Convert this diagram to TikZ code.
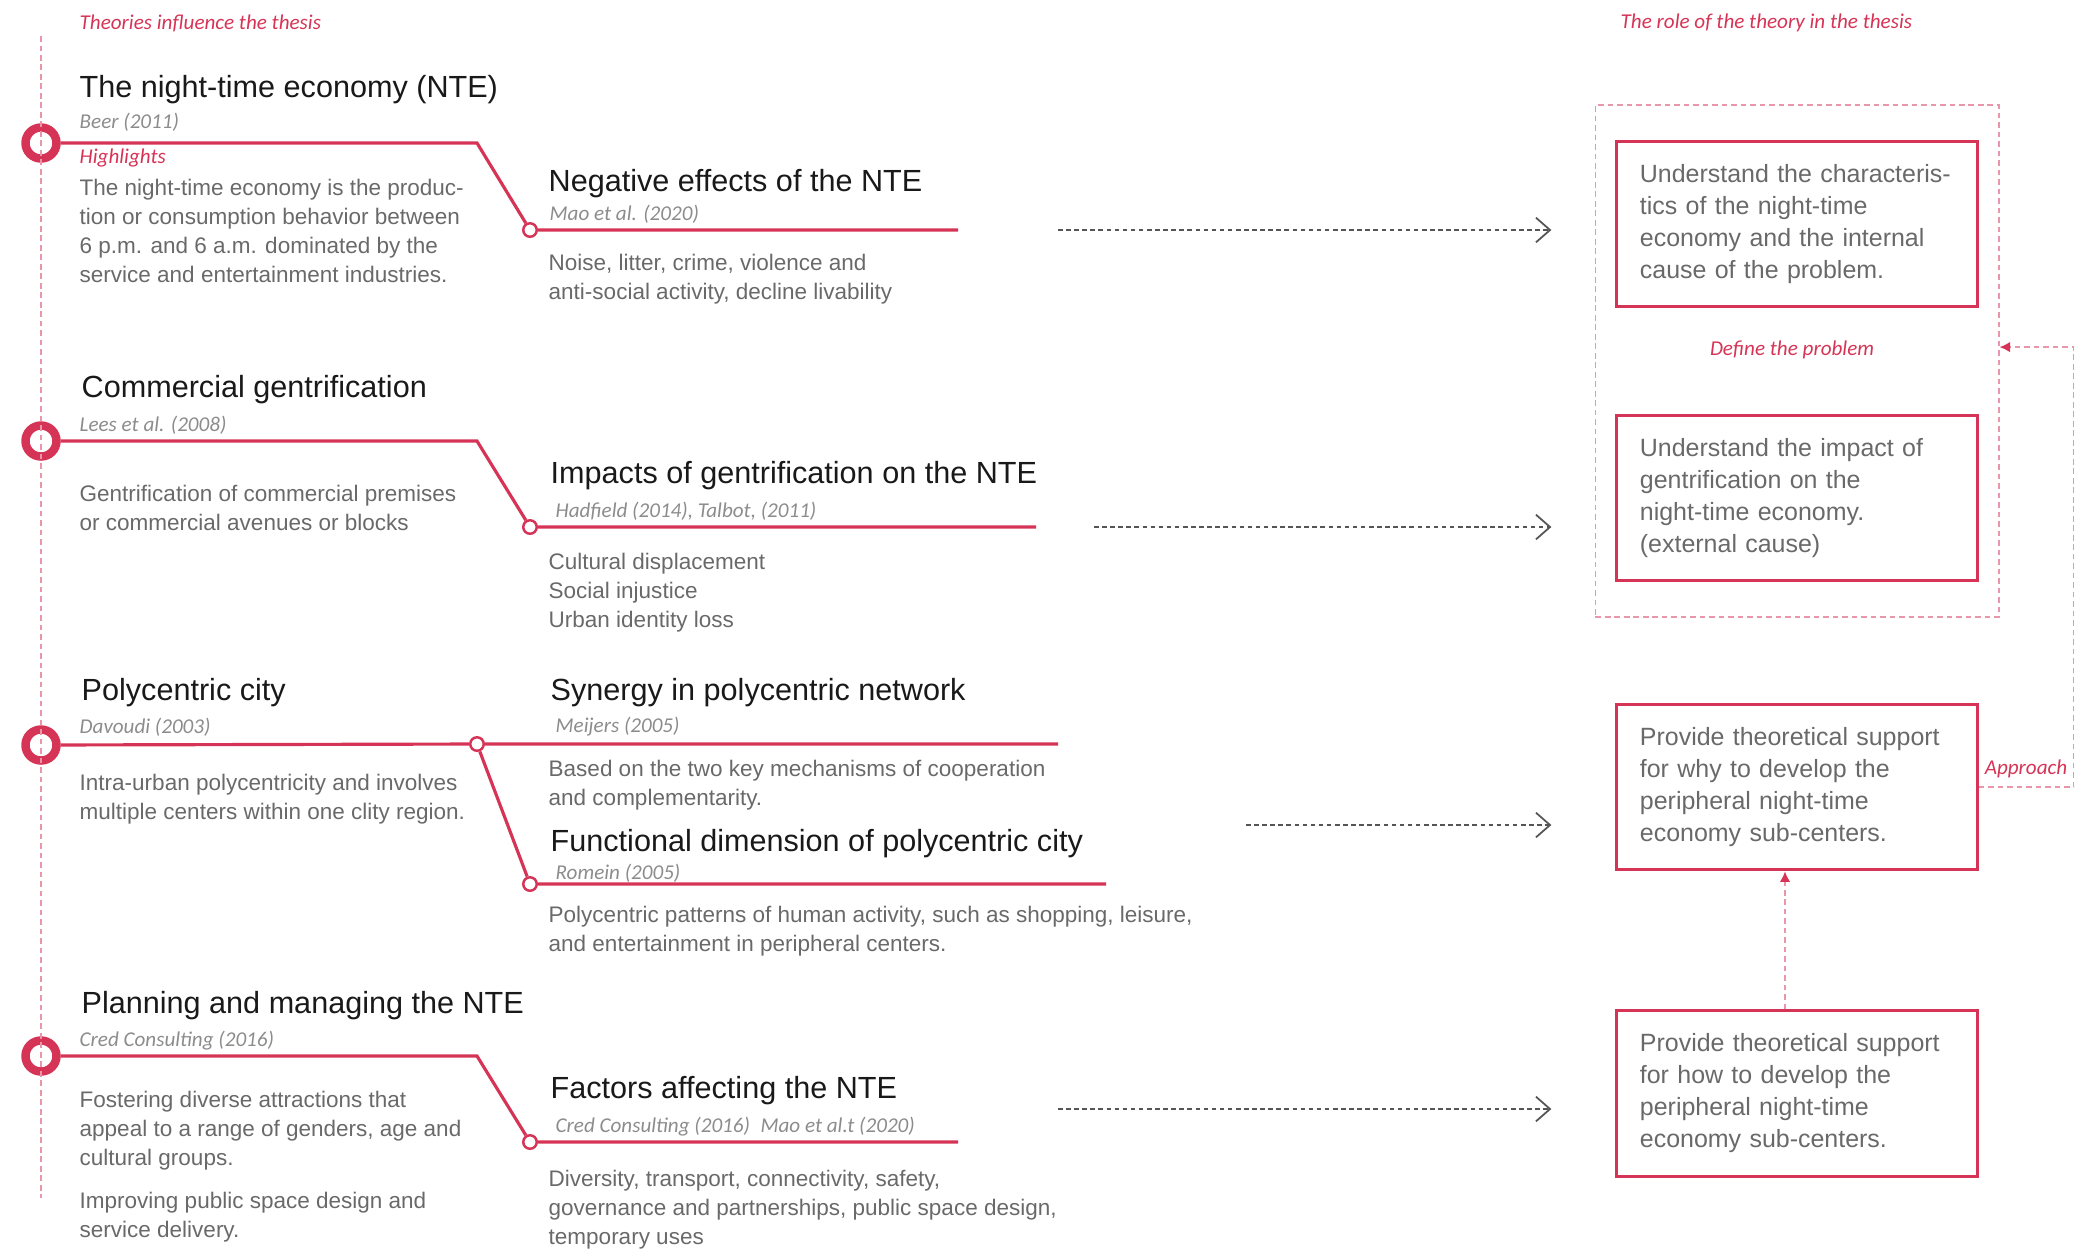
\documentclass[tikz,border=0pt]{standalone}
\usepackage{fontspec}
\setmainfont{Liberation Sans}
\newfontfamily\citefont{Carlito}
\usetikzlibrary{positioning, arrows.meta, fit}

\definecolor{nteRed}{RGB}{214,52,86}
\definecolor{bodyGrey}{RGB}{105,105,105}
\definecolor{citeGrey}{RGB}{140,140,140}
\definecolor{dashPink}{RGB}{232,150,170}
\definecolor{arrowGrey}{RGB}{85,85,85}

\begin{document}
\begin{tikzpicture}[
    x=0.01cm, y=-0.01cm,
    redline/.style={draw=nteRed, line width=0.9pt},
    bigdot/.style={circle, draw=nteRed, fill=white, line width=2.4pt, minimum size=0.31cm, inner sep=0pt},
    smalldot/.style={circle, draw=nteRed, fill=white, line width=0.7pt, minimum size=0.135cm, inner sep=0pt},
    theory/.style={anchor=west, inner sep=0pt, text=black!90, font=\fontsize{8.7}{10}\selectfont},
    cite/.style={anchor=west, inner sep=0pt, text=citeGrey, font=\citefont\itshape\fontsize{6}{7}\selectfont},
    note/.style={inner sep=0pt, text=nteRed, font=\citefont\itshape\fontsize{6}{7}\selectfont},
    body/.style={anchor=north west, inner sep=0pt, align=left, text=bodyGrey, font=\fontsize{6.4}{8.25}\selectfont},
    rolebox/.style={draw=nteRed, line width=0.85pt, text width=3.14cm, inner xsep=0.23cm, minimum height=1.65cm, align=left, text=bodyGrey, font=\fontsize{7.1}{9.1}\selectfont},
    flow/.style={arrowGrey, line width=0.5pt, dash pattern=on 1.3pt off 1pt, -{Straight Barb[length=4pt, width=7pt]}},
    link/.style={dashPink, line width=0.5pt, dash pattern=on 1.6pt off 1.1pt}
]
\useasboundingbox (0,0) rectangle (2087,1250);

% column headings
\node[note, anchor=west] (leftHead) at (79,23) {Theories influence the thesis};
\node[note, anchor=west] (rightHead) at (1620,23) {The role of the theory in the thesis};

% timeline dots
\node[bigdot] (nte) at (41,143) {};
\node[bigdot] (gent) at (41,441) {};
\node[bigdot] (poly) at (41,745) {};
\node[bigdot] (plan) at (41,1056) {};
\node[smalldot] (neg) at (530,230) {};
\node[smalldot] (imp) at (530,527) {};
\node[smalldot] (syn) at (477,744) {};
\node[smalldot] (func) at (530,884) {};
\node[smalldot] (fac) at (530,1142) {};

\coordinate (axisTop) at (41,36);
\coordinate (axisBot) at (41,1198);
\draw[link] (axisTop) -- (axisBot);

% red branches
\coordinate (nteBend) at (477,143);
\coordinate (negEnd) at (958,230);
\coordinate (gentBend) at (477,441);
\coordinate (impEnd) at (1036,527);
\coordinate (synEnd) at (1058,744);
\coordinate (funcEnd) at (1106,884);
\coordinate (planBend) at (477,1056);
\coordinate (facEnd) at (958,1142);
\draw[redline] (nte) -- (nteBend) -- (neg) -- (negEnd);
\draw[redline] (gent) -- (gentBend) -- (imp) -- (impEnd);
\draw[redline] (poly) -- (syn) -- (synEnd);
\draw[redline] (syn) -- (func) -- (funcEnd);
\draw[redline] (plan) -- (planBend) -- (fac) -- (facEnd);

% row 1
\node[theory] (nteTitle) at (79,90) {The night-time economy (NTE)};
\node[cite] (nteCite) at (79,122) {Beer (2011)};
\node[note, anchor=west] (nteHigh) at (79,158) {Highlights};
\node[body] (nteText) at (79,178) {The night-time economy is the produc-\\tion or consumption behavior between\\6 p.m. and 6 a.m. dominated by the\\service and entertainment industries.};
\node[theory] (negTitle) at (548,184) {Negative effects of the NTE};
\node[cite] (negCite) at (549,214) {Mao et al. (2020)};
\node[body] (negText) at (548,253) {Noise, litter, crime, violence and\\anti-social activity, decline livability};

% row 2
\node[theory] (gentTitle) at (81,390) {Commercial gentrification};
\node[cite] (gentCite) at (79,425) {Lees et al. (2008)};
\node[body] (gentText) at (79,484) {Gentrification of commercial premises\\or commercial avenues or blocks};
\node[theory] (impTitle) at (550,476) {Impacts of gentrification on the NTE};
\node[cite] (impCite) at (555,511) {Hadfield (2014), Talbot, (2011)};
\node[body] (impText) at (548,552) {Cultural displacement\\Social injustice\\Urban identity loss};

% row 3
\node[theory] (polyTitle) at (81,693) {Polycentric city};
\node[cite] (polyCite) at (79,727) {Davoudi (2003)};
\node[body] (polyText) at (79,773) {Intra-urban polycentricity and involves\\multiple centers within one clity region.};
\node[theory] (synTitle) at (550,693) {Synergy in polycentric network};
\node[cite] (synCite) at (555,727) {Meijers (2005)};
\node[body] (synText) at (548,759) {Based on the two key mechanisms of cooperation\\and complementarity.};
\node[theory] (funcTitle) at (550,844) {Functional dimension of polycentric city};
\node[cite] (funcCite) at (555,873) {Romein (2005)};
\node[body] (funcText) at (548,905) {Polycentric patterns of human activity, such as shopping, leisure,\\and entertainment in peripheral centers.};

% row 4
\node[theory] (planTitle) at (81,1006) {Planning and managing the NTE};
\node[cite] (planCite) at (79,1041) {Cred Consulting (2016)};
\node[body] (planText) at (79,1090) {Fostering diverse attractions that\\appeal to a range of genders, age and\\cultural groups.\\[4pt]Improving public space design and\\service delivery.};
\node[theory] (facTitle) at (550,1091) {Factors affecting the NTE};
\node[cite] (facCite) at (555,1127) {Cred Consulting (2016)\enspace Mao et al.t (2020)};
\node[body] (facText) at (548,1169) {Diversity, transport, connectivity, safety,\\governance and partnerships, public space design,\\temporary uses};

% role boxes
\node[rolebox] (box1) at (1797,224) {Understand the characteris-\\tics of the night-time\\economy and the internal\\cause of the problem.};
\node[rolebox, below=1.06cm of box1] (box2) {Understand the impact of\\gentrification on the\\night-time economy.\\(external cause)};
\node[rolebox, below=1.21cm of box2] (box3) {Provide theoretical support\\for why to develop the\\peripheral night-time\\economy sub-centers.};
\node[rolebox, below=1.38cm of box3] (box4) {Provide theoretical support\\for how to develop the\\peripheral night-time\\economy sub-centers.};
\node[draw=dashPink, line width=0.5pt, dash pattern=on 1.6pt off 1.1pt, fit=(box1)(box2), inner xsep=0.2cm, inner ysep=0.35cm] (defbox) {};
\node[note] (defLabel) at (1792,350) {Define the problem};
\node[note] (approach) at (2026,769) {Approach};

% theory -> role
\coordinate (negArr) at (1058,230);
\coordinate (impArr) at (1094,527);
\coordinate (polyArr) at (1246,825);
\coordinate (facArr) at (1058,1109);
\draw[flow, shorten >=0.64cm] (negArr) -- (negArr -| box1.west);
\draw[flow, shorten >=0.64cm] (impArr) -- (impArr -| box2.west);
\draw[flow, shorten >=0.64cm] (polyArr) -- (polyArr -| box3.west);
\draw[flow, shorten >=0.64cm] (facArr) -- (facArr -| box4.west);

% feedback
\draw[link, -{Latex[length=3pt, width=3pt, color=nteRed]}] ([xshift=-0.12cm]box4.north) -- ([xshift=-0.12cm]box3.south);
\draw[link, -{Latex[length=3pt, width=3pt, color=nteRed]}] (box3.east) -- ++(95,0) |- ([yshift=0.14cm]defbox.east);
\end{tikzpicture}
\end{document}
